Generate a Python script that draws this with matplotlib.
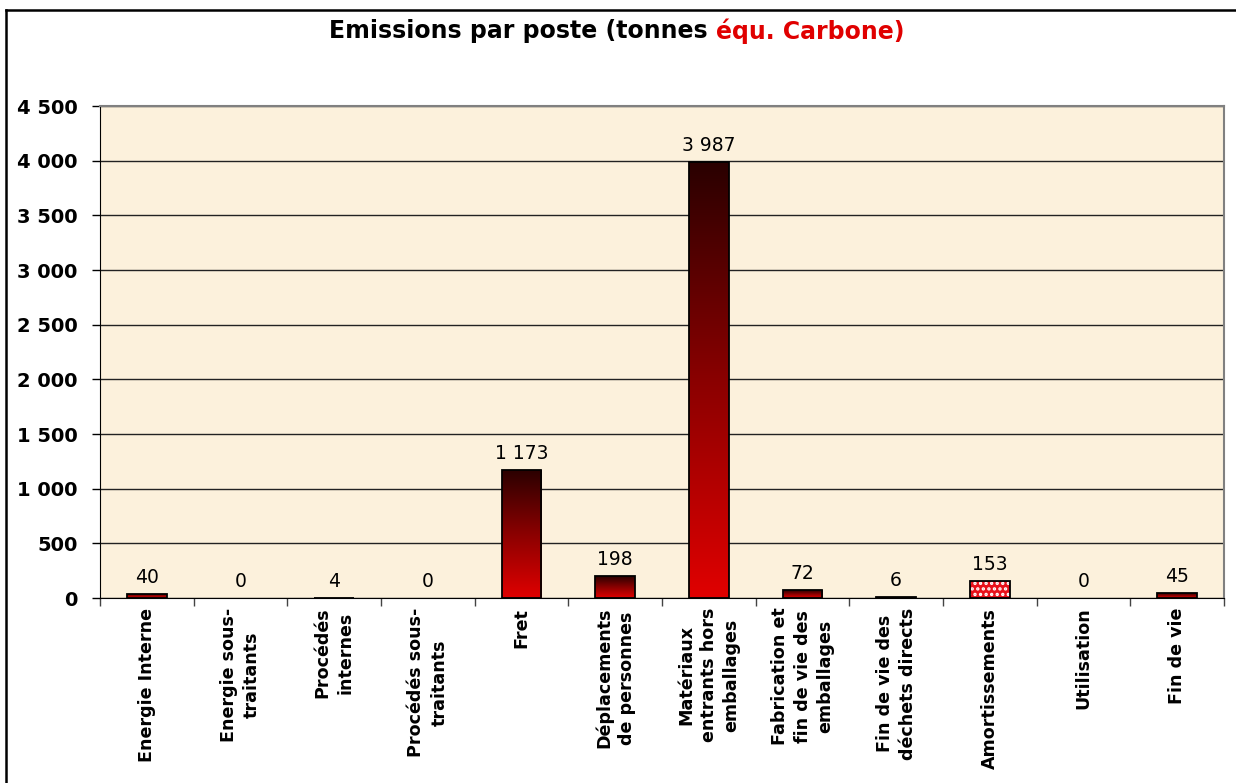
import numpy as np
import matplotlib.pyplot as plt
import matplotlib as mpl
from matplotlib.colors import LinearSegmentedColormap
from matplotlib.lines import Line2D
from matplotlib.ticker import FuncFormatter, FixedLocator

mpl.rcParams['font.family'] = ['DejaVu Sans']
mpl.rcParams['hatch.linewidth'] = 1.6

categories = ["Energie Interne", "Energie sous-\ntraitants", "Procédés\ninternes",
              "Procédés sous-\ntraitants", "Fret", "Déplacements\nde personnes",
              "Matériaux\nentrants hors\nemballages", "Fabrication et\nfin de vie des\nemballages",
              "Fin de vie des\ndéchets directs", "Amortissements", "Utilisation", "Fin de vie"]
values = [40, 0, 4, 0, 1173, 198, 3987, 72, 6, 153, 0, 45]
value_labels = ["40", "0", "4", "0", "1 173", "198", "3 987", "72", "6", "153", "0", "45"]
dotted = [False] * 9 + [True] + [False] * 2

yticks = [0, 500, 1000, 1500, 2000, 2500, 3000, 3500, 4000, 4500]

bg_color = "#fcf1dc"
grad = LinearSegmentedColormap.from_list("bar", ["#e00000", "#8a0000", "#2a0000"])

fig = plt.figure(figsize=(12.36, 7.83), dpi=100)
ax = fig.add_axes([100 / 1236, 1 - 598 / 783, 1124 / 1236, 492 / 783])
ax.set_facecolor(bg_color)

width = 0.42
xs = np.arange(len(values))
bars = ax.bar(xs, values, width=width, color="none", edgecolor="black", linewidth=1.3, zorder=4)
for x, v, b, d in zip(xs, values, bars, dotted):
    if v <= 0:
        b.set_visible(False)
        continue
    if d:
        ax.bar(x, v, width=width, color="#e8101a", edgecolor="white", hatch="...",
               linewidth=0, zorder=3)
    else:
        img = ax.imshow(np.linspace(0, 1, 256).reshape(-1, 1), cmap=grad, origin="lower",
                        extent=(x - width / 2, x + width / 2, 0, v), aspect="auto", zorder=3)
        img.set_clip_path(b)

for x, v, lab in zip(xs, values, value_labels):
    ax.annotate(lab, (x, v), xytext=(0, 5), textcoords="offset points",
                ha="center", va="bottom", fontsize=13.5, color="black")

ax.set_xlim(-0.5, len(values) - 0.5)
ax.set_ylim(0, 4500)
ax.set_yticks(yticks)
ax.yaxis.set_major_formatter(FuncFormatter(lambda v, p: f"{int(v):,}".replace(",", " ")))
ax.tick_params(axis="y", labelsize=14, length=6, width=1, direction="out", pad=10)
for t in ax.get_yticklabels():
    t.set_fontweight("bold")
ax.grid(axis="y", color="#222222", linewidth=1, zorder=1)
ax.set_axisbelow(True)

ax.set_xticks(xs)
ax.set_xticklabels(categories, rotation=90, fontsize=12.6, fontweight="bold",
                   ha="center", va="top", multialignment="center", linespacing=1.35)
ax.tick_params(axis="x", which="major", length=0, pad=7)
ax.xaxis.set_minor_locator(FixedLocator(np.arange(-0.5, len(values), 1.0)))
ax.tick_params(axis="x", which="minor", length=6, width=1, color="#444444")

for s in ["top", "right"]:
    ax.spines[s].set_color("#808080")
    ax.spines[s].set_linewidth(1.5)
ax.spines["left"].set_color("black")
ax.spines["bottom"].set_color("black")

# title with red part
renderer = fig.canvas.get_renderer()
t1 = fig.text(0, 1 - 31 / 783, "Emissions par poste (tonnes ", fontsize=17, fontweight="bold",
              ha="left", va="center")
t2 = fig.text(0, 1 - 31 / 783, "équ. Carbone)", fontsize=17, fontweight="bold",
              color="#e00000", ha="left", va="center")
w1 = t1.get_window_extent(renderer).width
w2 = t2.get_window_extent(renderer).width
x0 = (617 - (w1 + w2) / 2) / 1236
t1.set_x(x0)
t2.set_x(x0 + w1 / 1236)

# frame: top and left edges only
fig.lines.append(Line2D([6 / 1236, 1], [1 - 9.5 / 783, 1 - 9.5 / 783], transform=fig.transFigure,
                        color="black", linewidth=1.8))
fig.lines.append(Line2D([6 / 1236, 6 / 1236], [0, 1 - 9.5 / 783], transform=fig.transFigure,
                        color="black", linewidth=1.8))

fig.savefig("out.png", dpi=100)
